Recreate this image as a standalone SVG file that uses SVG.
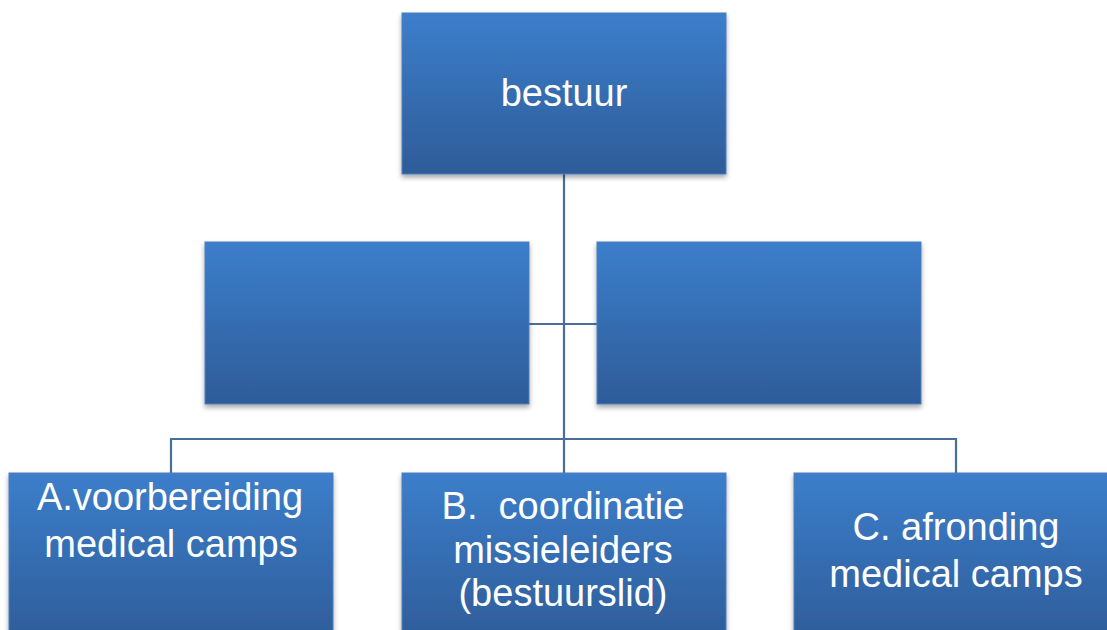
<svg xmlns="http://www.w3.org/2000/svg" width="1107" height="630" viewBox="0 0 1107 630">
<defs>
<linearGradient id="g" x1="0" y1="0" x2="0" y2="1">
<stop offset="0" stop-color="#3c7ecb"/>
<stop offset="1" stop-color="#2e5c98"/>
</linearGradient>
<filter id="sh" x="-5%" y="-5%" width="110%" height="120%">
<feDropShadow dx="0" dy="3" stdDeviation="2.5" flood-color="#000" flood-opacity="0.35"/>
</filter>
<style>
.box{fill:url(#g);stroke:#4d7fc0;stroke-width:1;filter:url(#sh)}
.t{font-family:"Liberation Sans",Arial,sans-serif;font-size:38px;fill:#ffffff;text-anchor:middle;white-space:pre}
.c{fill:none;stroke:#4a6e99;stroke-width:2.2}
</style>
</defs>
<rect width="1107" height="630" fill="#ffffff"/>
<g id="connectors">
<line class="c" x1="564" y1="174" x2="564" y2="473"/>
<line class="c" x1="529" y1="324" x2="597" y2="324"/>
<polyline class="c" points="171,473 171,439 956,439 956,473"/>
</g>
<g id="node-bestuur">
<rect class="box" x="402" y="13" width="324" height="161"/>
<text class="t" x="564" y="106">bestuur</text>
</g>
<g id="node-mid-left">
<rect class="box" x="205" y="242" width="324" height="162"/>
</g>
<g id="node-mid-right">
<rect class="box" x="597" y="242" width="324" height="162"/>
</g>
<g id="node-a">
<rect class="box" x="9" y="473" width="324" height="170"/>
<text class="t" x="170" y="510">A.voorbereiding</text>
<text class="t" x="171" y="557">medical camps</text>
</g>
<g id="node-b">
<rect class="box" x="402" y="473" width="324" height="170"/>
<text class="t" x="563" y="519" xml:space="preserve">B.  coordinatie</text>
<text class="t" x="563" y="563">missieleiders</text>
<text class="t" x="563" y="606">(bestuurslid)</text>
</g>
<g id="node-c">
<rect class="box" x="794" y="473" width="324" height="170"/>
<text class="t" x="956" y="540">C. afronding</text>
<text class="t" x="956" y="587">medical camps</text>
</g>
</svg>
